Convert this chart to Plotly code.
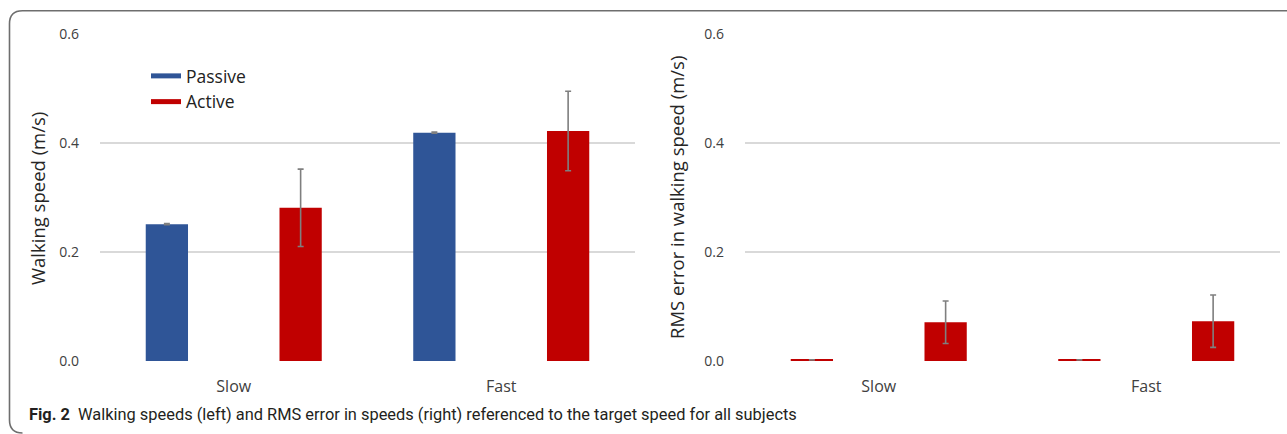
import plotly.graph_objects as go
from plotly.subplots import make_subplots

# ---- data ----
categories = ["Slow", "Fast"]
series_names = ["Passive", "Active"]

speed_passive = [0.251, 0.419]
speed_passive_err = [0.001, 0.001]
speed_active = [0.281, 0.422]
speed_active_err = [0.071, 0.073]

rms_passive = [0.002, 0.002]
rms_passive_err = [0.0, 0.0]
rms_active = [0.071, 0.073]
rms_active_err = [0.039, 0.048]

y_ticks = [0.0, 0.2, 0.4, 0.6]
y_tick_labels = ["0.0", "0.2", "0.4", "0.6"]

caption_label = "Fig. 2"
caption_text = ("Walking speeds (left) and RMS error in speeds (right) "
                "referenced to the target speed for all subjects")

# ---- styling ----
W, H = 1287, 434
ML, MR, MT, MB = 100, 7, 34, 73
BLUE = "#2F5597"
RED = "#C00000"
ERR = "#7F7F7F"
GRID = "#D9D9D9"
TXT = "#404040"
FONT = "Open Sans"

plot_w = W - ML - MR
plot_h = H - MT - MB


def px_x(p):
    return (p - ML) / plot_w


def px_y(p):
    return (H - MB - p) / plot_h


fig = make_subplots(rows=1, cols=2, horizontal_spacing=0.0932)
fig.update_xaxes(domain=[0, px_x(635)], row=1, col=1)
fig.update_xaxes(domain=[px_x(745), 1.0], row=1, col=2)


def bar(vals, errs, color, name, col, legend=False):
    fig.add_trace(
        go.Bar(
            x=categories, y=vals, name=name, marker_color=color,
            marker_line_width=0, showlegend=legend,
            error_y=dict(type="data", array=errs, color=ERR,
                         thickness=1.6, width=3),
        ),
        row=1, col=col,
    )


bar(speed_passive, speed_passive_err, BLUE, series_names[0], 1)
bar(speed_active, speed_active_err, RED, series_names[1], 1)
bar(rms_passive, rms_passive_err, RED, series_names[0], 2)
bar(rms_active, rms_active_err, RED, series_names[1], 2)

# legend entries drawn as thick line swatches
for nm, c in zip(series_names, [BLUE, RED]):
    fig.add_trace(
        go.Scatter(x=[None], y=[None], mode="lines", name=nm,
                   line=dict(color=c, width=5), showlegend=True),
        row=1, col=1,
    )

fig.update_yaxes(
    range=[0, 0.6], tickvals=y_ticks, ticktext=y_tick_labels,
    showgrid=True, gridcolor=GRID, gridwidth=1.5, zeroline=False,
    showline=False, ticks="", ticklabelstandoff=20,
    tickfont=dict(family=FONT, size=14, color=TXT),
)
fig.update_xaxes(
    showgrid=False, zeroline=False, showline=False, ticks="",
    ticklabelstandoff=14, range=[-0.5, 1.5],
    tickfont=dict(family=FONT, size=16, color=TXT),
)

# rounded frame around the figure
x0, x1 = px_x(9.5), px_x(1295)
yt = px_y(10.7)
rx = 13 / plot_w
ry = 13 / plot_h
frame = (f"M {x1},{yt} L {x0 + rx},{yt} Q {x0},{yt} {x0},{yt - ry} "
         f"L {x0},{px_y(420)} Q {x0},{px_y(433)} {x0 + rx},{px_y(433)}")

TITLE_FONT = dict(family=FONT, size=18.5, color="#262626")

fig.update_layout(
    width=W, height=H,
    margin=dict(l=ML, r=MR, t=MT, b=MB),
    paper_bgcolor="white", plot_bgcolor="white",
    barmode="group", bargap=0.0, bargroupgap=0.684,
    font=dict(family=FONT, color=TXT),
    showlegend=True,
    legend=dict(
        x=px_x(146), y=px_y(58), xanchor="left", yanchor="top",
        bgcolor="rgba(0,0,0,0)", borderwidth=0,
        font=dict(family=FONT, size=17.5, color="#222222"),
        itemwidth=30, tracegroupgap=0,
    ),
    shapes=[dict(type="path", path=frame, xref="paper", yref="paper",
                 line=dict(color="#6E6E6E", width=1.6))],
    annotations=[
        dict(text="Walking speed (m/s)", textangle=-90,
             x=px_x(37), y=px_y(199), xref="paper", yref="paper",
             xanchor="center", yanchor="middle",
             showarrow=False, font=TITLE_FONT),
        dict(text="RMS error in walking speed (m/s)", textangle=-90,
             x=px_x(677), y=px_y(198), xref="paper", yref="paper",
             xanchor="center", yanchor="middle",
             showarrow=False, font=TITLE_FONT),
        dict(text=f"<b>{caption_label}</b>  {caption_text}",
             x=px_x(27), y=px_y(414), xref="paper", yref="paper",
             xanchor="left", yanchor="middle", showarrow=False,
             font=dict(family="Roboto", size=16.4, color="#231F20")),
    ],
)

fig.write_html("out.html", config={"displayModeBar": False})
